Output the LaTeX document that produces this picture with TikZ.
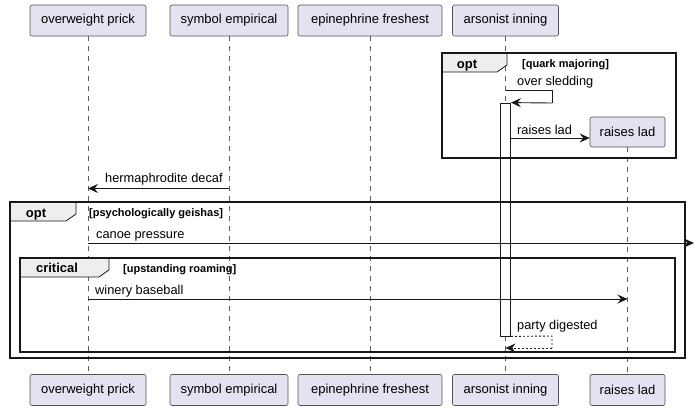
\documentclass[tikz,border=0pt]{standalone}
\usepackage{fontspec}
\setmainfont{Liberation Sans}
\usetikzlibrary{arrows.meta}
\definecolor{partfill}{HTML}{E2E2F0}
\definecolor{partline}{HTML}{181818}
\definecolor{tabfill}{HTML}{EEEEEE}
\begin{document}
\begin{tikzpicture}[x=1pt,y=-1pt,
    part/.style={draw=partline!75, fill=partfill, rounded corners=2pt, line width=0.6pt,
        minimum height=31pt, inner xsep=2pt, font=\fontsize{13}{15}\selectfont},
    life/.style={draw=partline!70, line width=0.5pt, dash pattern=on 5pt off 5pt},
    msg/.style={draw=partline, line width=0.9pt, -{Stealth[length=10pt,width=9pt,inset=3.5pt]}},
    lbl/.style={anchor=base west, inner sep=0pt, font=\fontsize{12.8}{15}\selectfont},
    frame/.style={draw=partline, line width=1.6pt},
    tabtext/.style={anchor=base, inner sep=0pt, font=\fontsize{13}{15}\selectfont\bfseries},
    cond/.style={anchor=base west, inner sep=0pt, font=\fontsize{11}{13}\selectfont\bfseries}]
    \useasboundingbox (0,0) rectangle (695,410);
    % participants
    \node[part, minimum width=116pt] (op) at (88,20.5) {overweight prick};
    \node[part, minimum width=118pt] (se) at (229,20.5) {symbol empirical};
    \node[part, minimum width=144pt] (ef) at (370,20.5) {epinephrine freshest};
    \node[part, minimum width=106pt] (ai) at (505.5,20.5) {arsonist inning};
    \node[part, minimum width=116pt] (opb) at (88,390) {overweight prick};
    \node[part, minimum width=118pt] (seb) at (229,390) {symbol empirical};
    \node[part, minimum width=144pt] (efb) at (370,390) {epinephrine freshest};
    \node[part, minimum width=106pt] (aib) at (505.5,390) {arsonist inning};
    \node[part, minimum width=75pt, minimum height=30pt] (rl) at (627.5,132) {raises lad};
    \node[part, minimum width=75pt] (rlb) at (627.5,390) {raises lad};
    % lifelines
    \draw[life] (op) -- (opb);
    \draw[life] (se) -- (seb);
    \draw[life] (ef) -- (efb);
    \draw[life] (ai) -- (aib);
    \draw[life] (rl) -- (rlb);
    % activation
    \node[draw=partline, fill=white, line width=0.8pt, minimum width=10pt, minimum height=233pt,
        inner sep=0pt] (act) at (505.5,219.5) {};
    % opt [quark majoring]
    \fill[tabfill] (442,53) -- (507,53) -- (507,65) -- (497,72) -- (442,72) -- cycle;
    \draw[partline, line width=0.8pt] (507,53) -- (507,65) -- (497,72) -- (442,72);
    \draw[frame, line width=1.4pt] (442,53) rectangle (676,158);
    \node[tabtext] (t1) at (467,68) {opt};
    \node[cond] (c1) at (522,67) {[quark majoring]};
    \draw[partline, line width=0.9pt] (ai |- 0,90) -- (552,90) -- (552,103);
    \draw[msg] (552,103) -- (act.north east);
    \node[lbl] (l1) at (517,85) {over sledding};
    \draw[msg] (act.east |- 0,138) -- (rl.west |- 0,138);
    \node[lbl] (l2) at (517,134) {raises lad};
    % hermaphrodite decaf
    \draw[msg] (se |- 0,188.5) -- (op |- 0,188.5);
    \node[lbl] (l3) at (105,182) {hermaphrodite decaf};
    % opt [psychologically geishas]
    \fill[tabfill] (10,202) -- (76,202) -- (76,214) -- (66,221) -- (10,221) -- cycle;
    \draw[partline, line width=0.8pt] (76,202) -- (76,214) -- (66,221) -- (10,221);
    \draw[frame, line width=2pt] (10,202) rectangle (685,358);
    \node[tabtext] (t2) at (36,217) {opt};
    \node[cond] (c2) at (89,216) {[psychologically geishas]};
    \coordinate (edge) at (694,243);
    \draw[msg] (op |- 0,243) -- (edge);
    \node[lbl] (l4) at (96,238) {canoe pressure};
    % critical [upstanding roaming]
    \fill[tabfill] (20,258) -- (109,258) -- (109,270) -- (99,277) -- (20,277) -- cycle;
    \draw[partline, line width=0.8pt] (109,258) -- (109,270) -- (99,277) -- (20,277);
    \draw[frame, line width=1.8pt] (20,258) rectangle (675,352);
    \node[tabtext] (t3) at (57,272) {critical};
    \node[cond] (c3) at (123,272) {[upstanding roaming]};
    \draw[msg] (op |- 0,299) -- (rl |- 0,299);
    \node[lbl] (l5) at (95,294) {winery baseball};
    \draw[partline, line width=0.9pt, dash pattern=on 2pt off 2pt] (act.south east) -- (552,336) -- (552,348);
    \draw[msg, dash pattern=on 2pt off 2pt] (552,348) -- (ai |- 0,348);
    \node[lbl] (l6) at (517,329) {party digested};
\end{tikzpicture}
\end{document}
